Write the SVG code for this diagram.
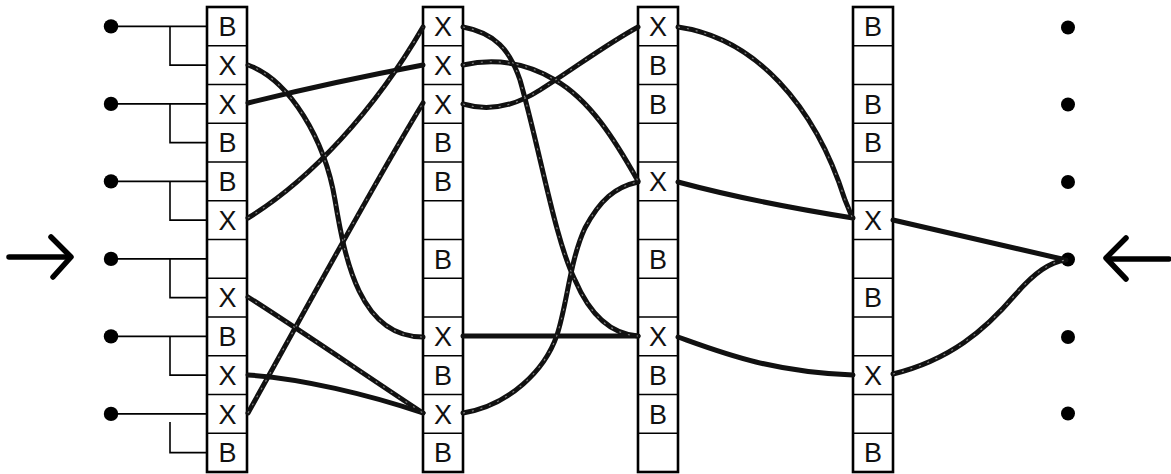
<svg xmlns="http://www.w3.org/2000/svg" xmlns:xlink="http://www.w3.org/1999/xlink" width="1171" height="474" viewBox="0 0 1171 474">
<style>
.bg{fill:#fff}
.col{fill:#fff;stroke:#000;stroke-width:2.6}
.div{fill:none;stroke:#000;stroke-width:1.6}
.lbl{font-family:"Liberation Sans",Arial,sans-serif;font-size:27px;fill:#111;text-anchor:middle}
.thin{fill:none;stroke:#000;stroke-width:1.6}
.dot{fill:#000}
.wire{fill:none;stroke:#111;stroke-width:5;stroke-linecap:round}
.tex{fill:none;stroke:#fff;stroke-width:1.2;stroke-dasharray:2 7;opacity:0.45}
.arr{fill:none;stroke:#000;stroke-width:5.5;stroke-linecap:round;stroke-linejoin:round}
</style>
<defs>
<path id="w1" d="M248,65 C290,80 325,140 335,200 C345,260 360,337 423,337"/>
<path id="w2" d="M248,103 C300,90 370,75 423,65"/>
<path id="w3" d="M248,218 C310,180 375,110 423,27"/>
<path id="w4" d="M248,297 C300,330 380,385 423,413"/>
<path id="w5" d="M248,375 C300,378 370,395 423,413"/>
<path id="w6" d="M248,413 C300,320 370,190 423,103"/>
<path id="w7" d="M463,27 C495,33 510,50 520,80 C540,150 555,240 575,280 C590,315 610,334 638,336"/>
<path id="w8" d="M463,413 C510,405 545,370 557,335 C567,305 570,260 585,228 C600,200 615,187 638,182"/>
<path id="w9" d="M463,65 C495,58 525,62 555,80 C590,100 615,140 638,181"/>
<path id="w10" d="M463,104 C490,112 515,106 540,90 C575,68 605,45 638,27"/>
<path id="w11" d="M463,336 L638,336"/>
<path id="w12" d="M678,27 C755,38 815,105 845,200 L852,217"/>
<path id="w13" d="M678,182 C730,196 790,208 853,218"/>
<path id="w14" d="M678,337 C720,352 770,372 853,375"/>
<path id="w15" d="M893,220 L1062,259"/>
<path id="w16" d="M893,374 C950,360 985,330 1015,295 C1035,272 1050,262 1066,260"/>
</defs>
<rect class="bg" x="0" y="0" width="1171" height="474"/>

<g id="arrow-left">
<line class="arr" x1="9" y1="257" x2="68" y2="257"/>
<polyline class="arr" points="51,237 71,257 53,277"/>
</g>
<g id="arrow-right">
<line class="arr" x1="1108" y1="259" x2="1169" y2="259"/>
<polyline class="arr" points="1126,238 1106,258 1126,279"/>
</g>

<g id="inputs">
<g id="in1"><path class="thin" d="M111,26.4 H207 M170,26.4 V65.1 H207"/><circle class="dot" cx="111" cy="26.4" r="7.2"/></g>
<g id="in2"><path class="thin" d="M111,103.9 H207 M170,103.9 V142.6 H207"/><circle class="dot" cx="111" cy="103.9" r="7.2"/></g>
<g id="in3"><path class="thin" d="M111,181.4 H207 M170,181.4 V220.1 H207"/><circle class="dot" cx="111" cy="181.4" r="7.2"/></g>
<g id="in4"><path class="thin" d="M111,258.9 H207 M170,258.9 V297.6 H207"/><circle class="dot" cx="111" cy="258.9" r="7.2"/></g>
<g id="in5"><path class="thin" d="M111,336.4 H207 M170,336.4 V375.1 H207"/><circle class="dot" cx="111" cy="336.4" r="7.2"/></g>
<g id="in6"><path class="thin" d="M111,413.9 H207 M170,422 V452.6 H207"/><circle class="dot" cx="111" cy="413.9" r="7.2"/></g>
</g>

<g id="outputs">
<circle id="out1" class="dot" cx="1068" cy="27.5" r="7"/>
<circle id="out2" class="dot" cx="1068" cy="104.5" r="7"/>
<circle id="out3" class="dot" cx="1068" cy="182" r="7"/>
<circle id="out4" class="dot" cx="1068" cy="259.5" r="7"/>
<circle id="out5" class="dot" cx="1068" cy="337" r="7"/>
<circle id="out6" class="dot" cx="1068" cy="413.5" r="7"/>
</g>

<g id="column1">
<rect class="col" x="207" y="7" width="40" height="465"/>
<path class="div" d="M207,45.75h40M207,84.5h40M207,123.25h40M207,162h40M207,200.75h40M207,239.5h40M207,278.25h40M207,317h40M207,355.75h40M207,394.5h40M207,433.25h40"/>
<text class="lbl" x="227.5" y="36.1">B</text>
<text class="lbl" x="227.5" y="74.8">X</text>
<text class="lbl" x="227.5" y="113.6">X</text>
<text class="lbl" x="227.5" y="152.3">B</text>
<text class="lbl" x="227.5" y="191.1">B</text>
<text class="lbl" x="227.5" y="229.8">X</text>
<text class="lbl" x="227.5" y="307.3">X</text>
<text class="lbl" x="227.5" y="346.1">B</text>
<text class="lbl" x="227.5" y="384.8">X</text>
<text class="lbl" x="227.5" y="423.6">X</text>
<text class="lbl" x="227.5" y="462.3">B</text>
</g>

<g id="column2">
<rect class="col" x="423" y="7" width="40" height="465"/>
<path class="div" d="M423,45.75h40M423,84.5h40M423,123.25h40M423,162h40M423,200.75h40M423,239.5h40M423,278.25h40M423,317h40M423,355.75h40M423,394.5h40M423,433.25h40"/>
<text class="lbl" x="443" y="36.1">X</text>
<text class="lbl" x="443" y="74.8">X</text>
<text class="lbl" x="443" y="113.6">X</text>
<text class="lbl" x="443" y="152.3">B</text>
<text class="lbl" x="443" y="191.1">B</text>
<text class="lbl" x="443" y="268.6">B</text>
<text class="lbl" x="443" y="346.1">X</text>
<text class="lbl" x="443" y="384.8">B</text>
<text class="lbl" x="443" y="423.6">X</text>
<text class="lbl" x="443" y="462.3">B</text>
</g>

<g id="column3">
<rect class="col" x="638" y="7" width="40" height="465"/>
<path class="div" d="M638,45.75h40M638,84.5h40M638,123.25h40M638,162h40M638,200.75h40M638,239.5h40M638,278.25h40M638,317h40M638,355.75h40M638,394.5h40M638,433.25h40"/>
<text class="lbl" x="658" y="36.1">X</text>
<text class="lbl" x="658" y="74.8">B</text>
<text class="lbl" x="658" y="113.6">B</text>
<text class="lbl" x="658" y="191.1">X</text>
<text class="lbl" x="658" y="268.6">B</text>
<text class="lbl" x="658" y="346.1">X</text>
<text class="lbl" x="658" y="384.8">B</text>
<text class="lbl" x="658" y="423.6">B</text>
</g>

<g id="column4">
<rect class="col" x="853" y="7" width="40" height="465"/>
<path class="div" d="M853,45.75h40M853,84.5h40M853,123.25h40M853,162h40M853,200.75h40M853,239.5h40M853,278.25h40M853,317h40M853,355.75h40M853,394.5h40M853,433.25h40"/>
<text class="lbl" x="873" y="36.1">B</text>
<text class="lbl" x="873" y="113.6">B</text>
<text class="lbl" x="873" y="152.3">B</text>
<text class="lbl" x="873" y="229.8">X</text>
<text class="lbl" x="873" y="307.3">B</text>
<text class="lbl" x="873" y="384.8">X</text>
<text class="lbl" x="873" y="462.3">B</text>
</g>

<g id="connectors">
<use xlink:href="#w1" class="wire"/><use xlink:href="#w2" class="wire"/><use xlink:href="#w3" class="wire"/><use xlink:href="#w4" class="wire"/>
<use xlink:href="#w5" class="wire"/><use xlink:href="#w6" class="wire"/><use xlink:href="#w7" class="wire"/><use xlink:href="#w8" class="wire"/>
<use xlink:href="#w9" class="wire"/><use xlink:href="#w10" class="wire"/><use xlink:href="#w11" class="wire"/><use xlink:href="#w12" class="wire"/>
<use xlink:href="#w13" class="wire"/><use xlink:href="#w14" class="wire"/><use xlink:href="#w15" class="wire"/><use xlink:href="#w16" class="wire"/>
<g id="wire-texture">
<use xlink:href="#w1" class="tex"/><use xlink:href="#w3" class="tex"/><use xlink:href="#w4" class="tex"/><use xlink:href="#w6" class="tex"/>
<use xlink:href="#w7" class="tex"/><use xlink:href="#w8" class="tex"/><use xlink:href="#w9" class="tex"/><use xlink:href="#w10" class="tex"/>
<use xlink:href="#w12" class="tex"/><use xlink:href="#w16" class="tex"/>
</g>
</g>
</svg>
